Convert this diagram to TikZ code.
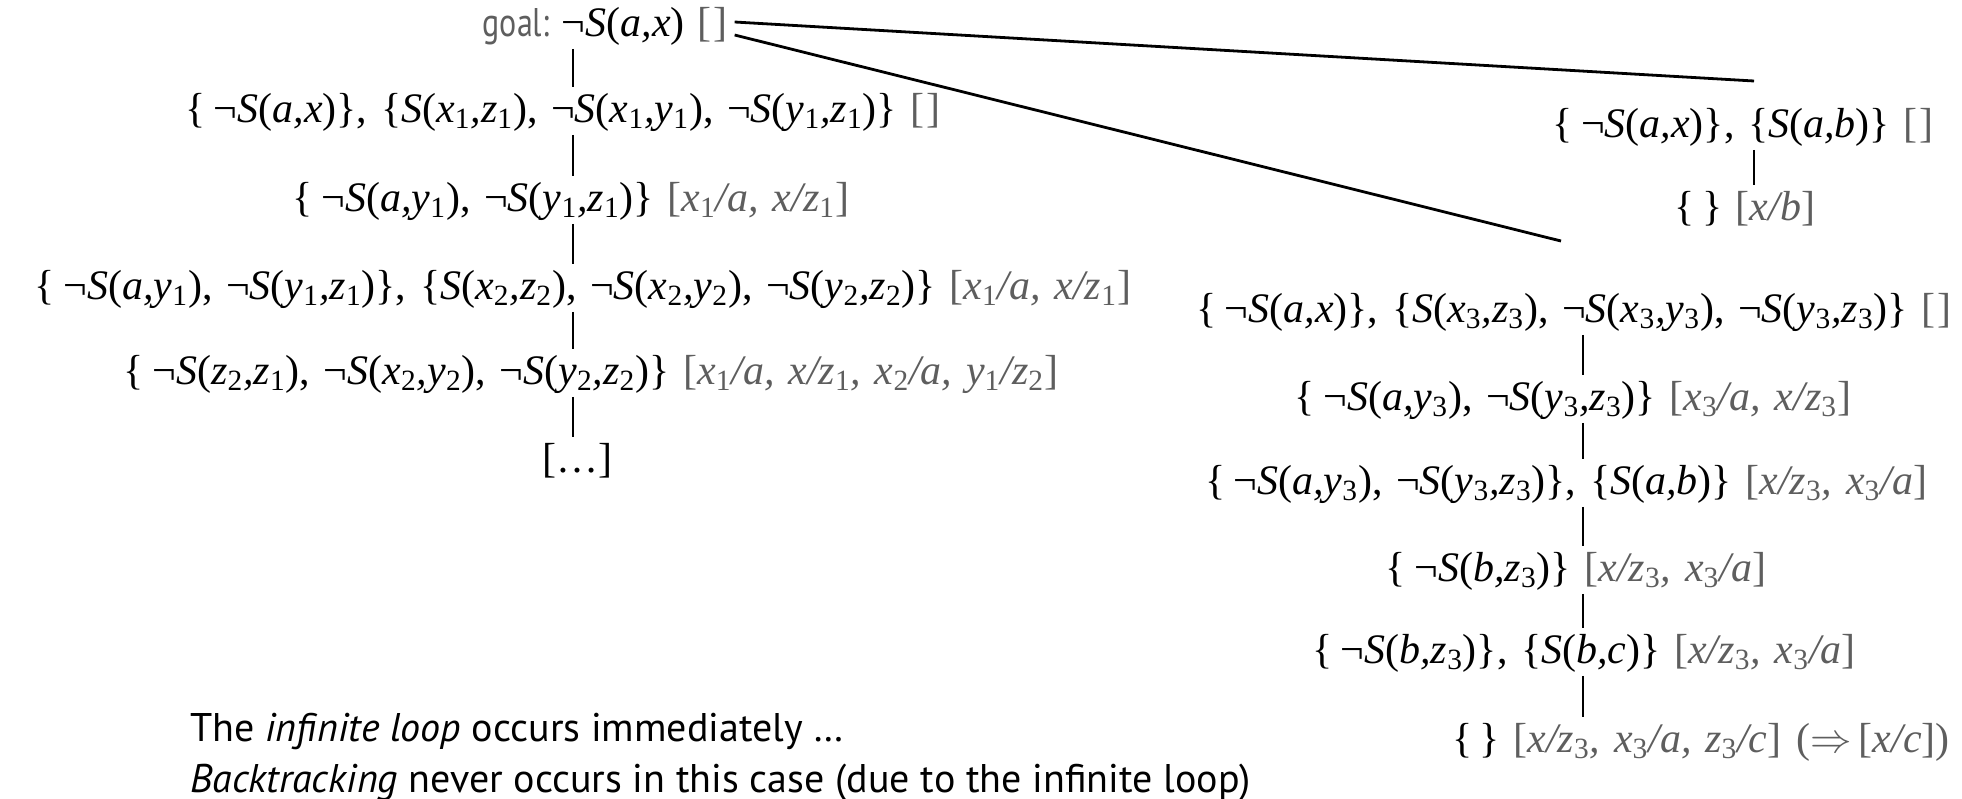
\documentclass[tikz,border=0pt]{standalone}
\usepackage{fontspec}
\setsansfont{PT Sans}
\newfontfamily\tms[WordSpace=1.3]{Liberation Serif}
\newfontfamily\sns{PT Sans}
\newfontfamily\snsc[FakeStretch=0.8]{PT Sans}
\definecolor{subgray}{HTML}{5E5E5E}
\newcommand{\sbs}[1]{\textsubscript{\upshape#1}}
\newcommand{\gr}[1]{\textcolor{subgray}{#1}}
\newcommand{\nS}[1]{¬\textit{S}(\textit{#1})}
\newcommand{\pS}[1]{\textit{S}(\textit{#1})}
\newcommand{\ob}{\{\hspace{0.2em}}
\newcommand{\eb}{[\kern1pt]}
\tikzset{
  row/.style={inner sep=0pt, anchor=center, font=\tms\fontsize{21}{25}\selectfont,
    text height=14.5pt, text depth=4pt},
  txt/.style={inner sep=0pt, anchor=base west, font=\sns\fontsize{20}{24}\selectfont},
  con/.style={line width=1.2pt, shorten <=2pt, shorten >=3pt},
  diag/.style={line width=1.4pt}
}
\begin{document}
\begin{tikzpicture}[x=0.5pt,y=-0.5pt]
\useasboundingbox (0,0) rectangle (1962,798);
\clip (0,0) rectangle (1962,798);
% left column
\node[row] (goal) at (605,26) {{\snsc\fontsize{20}{22}\selectfont\color{subgray}goal:}\hspace{0.3em}\nS{a,x}\hspace{0.3em}\gr{\eb}};
\node[row] (L1) at (563,112) {\ob\nS{a,x}\}, \{\pS{x\sbs1,z\sbs1}, \nS{x\sbs1,y\sbs1}, \nS{y\sbs1,z\sbs1}\} \gr{\eb}};
\node[row] (L2) at (571,201) {\ob\nS{a,y\sbs1}, \nS{y\sbs1,z\sbs1}\} \gr{[\textit{x\sbs1/a, x/z\sbs1}]}};
\node[row] (L3) at (583,289) {\ob\nS{a,y\sbs1}, \nS{y\sbs1,z\sbs1}\}, \{\pS{x\sbs2,z\sbs2}, \nS{x\sbs2,y\sbs2}, \nS{y\sbs2,z\sbs2}\} \gr{[\textit{x\sbs1/a, x/z\sbs1}]}};
\node[row] (L4) at (591,374) {\ob\nS{z\sbs2,z\sbs1}, \nS{x\sbs2,y\sbs2}, \nS{y\sbs2,z\sbs2}\} \gr{[\textit{x\sbs1/a, x/z\sbs1, x\sbs2/a, y\sbs1/z\sbs2}]}};
\node[row] (L5) at (577,462) {[…]};
% right branch
\node[row] (R1) at (1743,127) {\ob\nS{a,x}\}, \{\pS{a,b}\} \gr{\eb}};
\node[row] (R2) at (1745,210) {\{\,\} \gr{[\textit{x/b}]}};
% middle branch
\node[row] (M1) at (1574,312) {\ob\nS{a,x}\}, \{\pS{x\sbs3,z\sbs3}, \nS{x\sbs3,y\sbs3}, \nS{y\sbs3,z\sbs3}\} \gr{\eb}};
\node[row] (M2) at (1573,400) {\ob\nS{a,y\sbs3}, \nS{y\sbs3,z\sbs3}\} \gr{[\textit{x\sbs3/a, x/z\sbs3}]}};
\node[row] (M3) at (1566,484) {\ob\nS{a,y\sbs3}, \nS{y\sbs3,z\sbs3}\}, \{\pS{a,b}\} \gr{[\textit{x/z\sbs3, x\sbs3/a}]}};
\node[row] (M4) at (1576,571) {\ob\nS{b,z\sbs3}\} \gr{[\textit{x/z\sbs3, x\sbs3/a}]}};
\node[row] (M5) at (1584,653) {\ob\nS{b,z\sbs3}\}, \{\pS{b,c}\} \gr{[\textit{x/z\sbs3, x\sbs3/a}]}};
\node[row, anchor=east] (M6) at (1950,742) {\{\,\} \gr{[\textit{x/z\sbs3, x\sbs3/a, z\sbs3/c}]\hspace{0.35em}($\Rightarrow$\,[\textit{x/c}])}};
% bottom text
\node[txt] (T1) at (190,741) {The \textit{infinite loop} occurs immediately …};
\node[txt] (T2) at (190,792) {\textit{Backtracking} never occurs in this case (due to the infinite loop)};
% column coordinates
\coordinate (cL) at (573,0);
\coordinate (cR) at (1754,0);
\coordinate (cM) at (1583,0);
% vertical connectors
\draw[con] (goal.south -| cL) -- (L1.north -| cL);
\draw[con] (L1.south -| cL) -- (L2.north -| cL);
\draw[con] (L2.south -| cL) -- (L3.north -| cL);
\draw[con] (L3.south -| cL) -- (L4.north -| cL);
\draw[con] (L4.south -| cL) -- (L5.north -| cL);
\draw[con] (R1.south -| cR) -- (R2.north -| cR);
\draw[con] (M1.south -| cM) -- (M2.north -| cM);
\draw[con] (M2.south -| cM) -- (M3.north -| cM);
\draw[con] (M3.south -| cM) -- (M4.north -| cM);
\draw[con] (M4.south -| cM) -- (M5.north -| cM);
\draw[con] (M5.south -| cM) -- (M6.north -| cM);
% diagonal connectors
\coordinate (eR) at (1754,81);
\coordinate (eM) at (1561,241);
\draw[diag] ([shift={(7,-4)}]goal.east) -- (eR);
\draw[diag] ([shift={(7,9)}]goal.east) -- (eM);
\end{tikzpicture}
\end{document}
